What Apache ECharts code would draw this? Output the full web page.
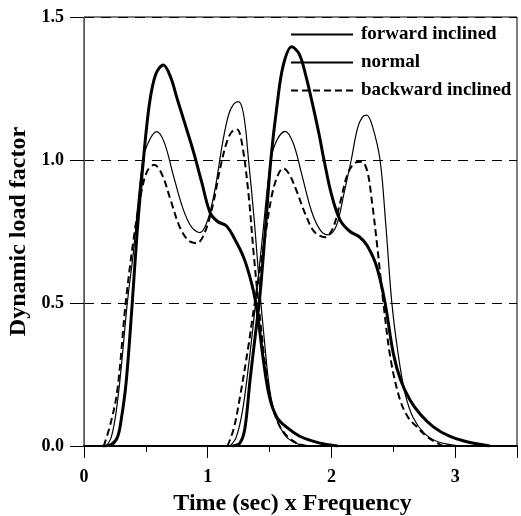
<!DOCTYPE html>
<html>
<head>
<meta charset="utf-8" />
<title>Dynamic load factor</title>
<script src="https://cdn.jsdelivr.net/npm/echarts@6/dist/echarts.min.js"></script>
<style>
  * { margin: 0; padding: 0; }
  body { background: #fff; }
  #chart { width: 521px; height: 516px; }
</style>
</head>
<body>
<div id="chart"></div>
<script>
// values (x = time x frequency, y = dynamic load factor)
var fwd1X = [0.15, 0.22, 0.27, 0.30, 0.34, 0.39, 0.43, 0.48, 0.53, 0.58, 0.641, 0.70, 0.749, 0.81, 0.884, 0.95, 1.02, 1.08, 1.15, 1.21, 1.29, 1.36, 1.40, 1.45, 1.50, 1.56, 1.64, 1.74, 1.85, 1.95, 2.05];
var fwd1Y = [0, 0.005, 0.03, 0.09, 0.22, 0.5, 0.75, 1.0, 1.2, 1.3, 1.332, 1.29, 1.22, 1.135, 1.03, 0.925, 0.815, 0.785, 0.77, 0.73, 0.66, 0.56, 0.47, 0.30, 0.17, 0.10, 0.065, 0.035, 0.017, 0.006, 0];

var nor1X = [0.18, 0.22, 0.26, 0.30, 0.35, 0.40, 0.475, 0.53, 0.588, 0.65, 0.72, 0.80, 0.87, 0.938, 1.00, 1.06, 1.12, 1.17, 1.21, 1.247, 1.29, 1.33, 1.38, 1.42, 1.46, 1.50, 1.55, 1.62, 1.70, 1.80];
var nor1Y = [0, 0.03, 0.12, 0.27, 0.5, 0.68, 1.0, 1.07, 1.099, 1.06, 0.95, 0.83, 0.765, 0.746, 0.79, 0.9, 1.06, 1.16, 1.195, 1.204, 1.16, 1.0, 0.77, 0.55, 0.36, 0.2, 0.1, 0.04, 0.012, 0];

var bwd1X = [0.16, 0.215, 0.27, 0.337, 0.40, 0.46, 0.51, 0.568, 0.63, 0.70, 0.77, 0.84, 0.911, 0.97, 1.04, 1.10, 1.16, 1.21, 1.239, 1.28, 1.33, 1.37, 1.41, 1.46, 1.51, 1.57, 1.64, 1.72, 1.80];
var bwd1Y = [0, 0.079, 0.196, 0.5, 0.72, 0.88, 0.96, 0.983, 0.95, 0.86, 0.77, 0.72, 0.709, 0.74, 0.84, 0.97, 1.07, 1.105, 1.107, 1.05, 0.88, 0.68, 0.5, 0.3, 0.16, 0.08, 0.035, 0.01, 0];

var fwd2X = [1.20, 1.26, 1.30, 1.342, 1.38, 1.423, 1.47, 1.51, 1.56, 1.61, 1.679, 1.74, 1.79, 1.85, 1.90, 1.94, 2.00, 2.07, 2.15, 2.23, 2.29, 2.366, 2.433, 2.50, 2.56, 2.635, 2.72, 2.824, 2.95, 3.094, 3.28];
var fwd2Y = [0, 0.01, 0.06, 0.23, 0.37, 0.53, 0.78, 1.0, 1.19, 1.33, 1.396, 1.37, 1.30, 1.19, 1.09, 1.0, 0.88, 0.79, 0.75, 0.73, 0.70, 0.627, 0.502, 0.324, 0.23, 0.161, 0.11, 0.067, 0.035, 0.015, 0];

var nor2X = [1.18, 1.23, 1.28, 1.33, 1.387, 1.44, 1.51, 1.56, 1.625, 1.69, 1.76, 1.84, 1.91, 1.975, 2.04, 2.10, 2.16, 2.21, 2.25, 2.285, 2.33, 2.393, 2.44, 2.488, 2.54, 2.595, 2.66, 2.75, 2.86, 3.04];
var nor2Y = [0, 0.03, 0.12, 0.28, 0.5, 0.72, 1.0, 1.07, 1.10, 1.06, 0.95, 0.82, 0.755, 0.738, 0.77, 0.88, 1.0, 1.11, 1.15, 1.157, 1.12, 1.0, 0.77, 0.502, 0.32, 0.184, 0.1, 0.045, 0.015, 0];

var bwd2X = [1.16, 1.21, 1.261, 1.328, 1.38, 1.46, 1.52, 1.57, 1.611, 1.66, 1.72, 1.79, 1.86, 1.948, 2.01, 2.07, 2.13, 2.19, 2.245, 2.29, 2.326, 2.37, 2.42, 2.48, 2.555, 2.62, 2.69, 2.78, 2.90];
var bwd2Y = [0, 0.06, 0.172, 0.347, 0.5, 0.72, 0.88, 0.95, 0.971, 0.95, 0.89, 0.81, 0.75, 0.73, 0.76, 0.85, 0.95, 0.99, 0.994, 0.96, 0.86, 0.70, 0.5, 0.3, 0.161, 0.1, 0.067, 0.03, 0];

var names = ['forward inclined', 'normal', 'backward inclined'];

var serif = 'Liberation Serif';

function pairs(xs, ys) {
  var out = [];
  for (var i = 0; i < xs.length; i++) out.push([xs[i], ys[i]]);
  return out;
}

function curve(name, xs, ys, width, type) {
  return {
    name: name,
    type: 'line',
    xAxisIndex: 0,
    data: pairs(xs, ys),
    smooth: 0.35,
    symbol: 'none',
    itemStyle: { color: '#000' },
    lineStyle: { color: '#000', width: width, type: type }
  };
}

var chart = echarts.init(document.getElementById('chart'));

chart.setOption({
  animation: false,
  grid: {
    left: 84, right: 4, top: 17, bottom: 70,
    outerBoundsMode: 'none',
    show: true, borderColor: '#000', borderWidth: 1
  },
  legend: {
    orient: 'vertical',
    left: 285,
    top: 20,
    itemWidth: 62,
    itemHeight: 14,
    itemGap: 9,
    data: names,
    itemStyle: { color: 'rgba(0,0,0,0)', borderWidth: 0, opacity: 0 },
    textStyle: { fontFamily: serif, fontWeight: 'bold', fontSize: 19, color: '#000', padding: [0, 0, 0, 3] }
  },
  xAxis: [{
    type: 'value',
    min: 0, max: 3.5, interval: 0.5,
    name: 'Time (sec) x Frequency',
    nameLocation: 'middle',
    nameGap: 46,
    nameTextStyle: { fontFamily: serif, fontWeight: 'bold', fontSize: 24, color: '#000', padding: [0, 16, 0, 0] },
    axisLine: { lineStyle: { color: '#000', width: 2 } },
    axisTick: { length: 6, lineStyle: { color: '#000' } },
    axisLabel: {
      margin: 22,
      fontFamily: serif, fontWeight: 'bold', fontSize: 18, color: '#000',
      formatter: function (v) { return v % 1 === 0 && v < 3.5 ? String(v) : ''; }
    },
    splitLine: { show: false }
  }, {
    type: 'value',
    min: 0, max: 3.5, interval: 1,
    position: 'bottom',
    axisLine: { show: false },
    axisTick: { length: 12, lineStyle: { color: '#000' } },
    axisLabel: { show: false },
    splitLine: { show: false }
  }],
  yAxis: {
    type: 'value',
    min: 0, max: 1.5, interval: 0.5,
    name: 'Dynamic load factor',
    nameLocation: 'middle',
    nameGap: 45,
    nameTextStyle: { fontFamily: serif, fontWeight: 'bold', fontSize: 24, color: '#000' },
    axisLine: { show: true, lineStyle: { color: '#555', width: 1 } },
    axisTick: { length: 14, lineStyle: { color: '#000' } },
    axisLabel: {
      margin: 20,
      fontFamily: serif, fontWeight: 'bold', fontSize: 18, color: '#000',
      formatter: function (v) { return v.toFixed(1); }
    },
    splitLine: { show: true, lineStyle: { color: '#000', width: 1, type: [10, 7] } }
  },
  series: [
    curve(names[0], fwd1X, fwd1Y, 3, 'solid'),
    curve(names[1], nor1X, nor1Y, 1.2, 'solid'),
    curve(names[2], bwd1X, bwd1Y, 2, [7, 4]),
    curve(names[0], fwd2X, fwd2Y, 3, 'solid'),
    curve(names[1], nor2X, nor2Y, 1.2, 'solid'),
    curve(names[2], bwd2X, bwd2Y, 2, [7, 4])
  ]
});
</script>
</body>
</html>
